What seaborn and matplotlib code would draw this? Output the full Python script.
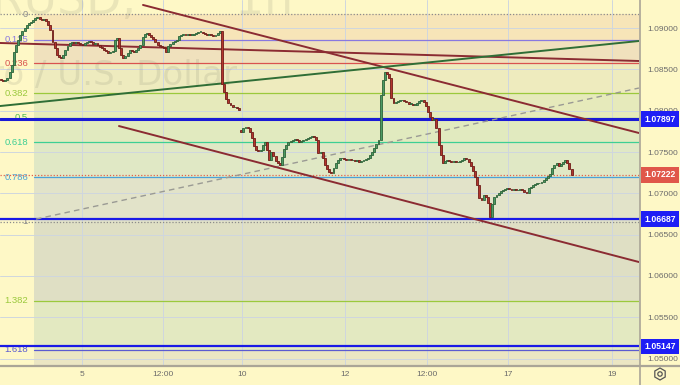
import numpy as np
import pandas as pd
import matplotlib
matplotlib.use("Agg")
import matplotlib.pyplot as plt
import matplotlib.transforms as mtransforms
from matplotlib.lines import Line2D
from matplotlib.patches import RegularPolygon, Circle
import seaborn as sns

# ---------------- data ----------------
closes = [
    1.08371, 1.08359, 1.08371, 1.08395, 1.08468, 1.08553, 1.08710, 1.08795, 1.08855, 1.08916,
    1.08964, 1.09000, 1.09037, 1.09061, 1.09073, 1.09097, 1.09121, 1.09133, 1.09109, 1.09097,
    1.09109, 1.09085, 1.09037, 1.08976, 1.08831, 1.08758, 1.08674, 1.08649, 1.08637, 1.08674,
    1.08734, 1.08782, 1.08819, 1.08831, 1.08819, 1.08831, 1.08819, 1.08807, 1.08795, 1.08819,
    1.08831, 1.08843, 1.08831, 1.08807, 1.08819, 1.08795, 1.08770, 1.08758, 1.08734, 1.08722,
    1.08698, 1.08710, 1.08722, 1.08855, 1.08879, 1.08758, 1.08674, 1.08637, 1.08661, 1.08698,
    1.08734, 1.08722, 1.08710, 1.08734, 1.08758, 1.08795, 1.08891, 1.08928, 1.08940, 1.08916,
    1.08891, 1.08867, 1.08831, 1.08795, 1.08782, 1.08770, 1.08758, 1.08710, 1.08782, 1.08807,
    1.08831, 1.08843, 1.08855, 1.08903, 1.08916, 1.08928, 1.08916, 1.08928, 1.08916, 1.08916,
    1.08928, 1.08940, 1.08952, 1.08952, 1.08940, 1.08928, 1.08916, 1.08928, 1.08916, 1.08903,
    1.08916, 1.08940, 1.08964, 1.08323, 1.08226, 1.08141, 1.08093, 1.08069, 1.08044, 1.08044,
    1.08032, 1.08008, 1.07742, 1.07790, 1.07802, 1.07790, 1.07742, 1.07669, 1.07572, 1.07524,
    1.07512, 1.07524, 1.07585, 1.07621, 1.07524, 1.07403, 1.07500, 1.07451, 1.07391, 1.07367,
    1.07343, 1.07439, 1.07536, 1.07585, 1.07621, 1.07633, 1.07645, 1.07657, 1.07645, 1.07621,
    1.07633, 1.07645, 1.07657, 1.07669, 1.07681, 1.07693, 1.07681, 1.07645, 1.07488, 1.07500,
    1.07427, 1.07343, 1.07294, 1.07258, 1.07246, 1.07306, 1.07367, 1.07403, 1.07427, 1.07427,
    1.07415, 1.07403, 1.07415, 1.07403, 1.07403, 1.07391, 1.07403, 1.07379, 1.07391, 1.07403,
    1.07415, 1.07427, 1.07464, 1.07500, 1.07548, 1.07597, 1.07645, 1.08190, 1.08371, 1.08468,
    1.08444, 1.08395, 1.08153, 1.08093, 1.08105, 1.08117, 1.08129, 1.08129, 1.08117, 1.08105,
    1.08081, 1.08081, 1.08069, 1.08069, 1.08093, 1.08117, 1.08129, 1.08105, 1.08056, 1.07984,
    1.07923, 1.07887, 1.07899, 1.07790, 1.07585, 1.07464, 1.07367, 1.07391, 1.07403, 1.07391,
    1.07379, 1.07391, 1.07379, 1.07379, 1.07391, 1.07403, 1.07427, 1.07415, 1.07379, 1.07330,
    1.07270, 1.07197, 1.07101, 1.06943, 1.06919, 1.06980, 1.06955, 1.06883, 1.06713, 1.06871,
    1.06955, 1.06980, 1.07004, 1.07028, 1.07040, 1.07052, 1.07064, 1.07052, 1.07040, 1.07052,
    1.07040, 1.07040, 1.07052, 1.07040, 1.07016, 1.07004, 1.07064, 1.07076, 1.07101, 1.07113,
    1.07125, 1.07125, 1.07137, 1.07161, 1.07185, 1.07209, 1.07234, 1.07306, 1.07343, 1.07367,
    1.07330, 1.07355, 1.07379, 1.07403, 1.07367, 1.07294, 1.07222,
]
first_open = 1.08383
gap_index = 112          # Monday open after the weekend
gap_open = 1.07766

tick_candles = [37.8, 75.5, 112.4, 160.4, 198.6, 236.4, 284.8]
tick_labels = ["5", "12:00", "10", "12", "12:00", "17", "19"]
price_ticks = [1.050, 1.055, 1.060, 1.065, 1.070, 1.075, 1.080, 1.085, 1.090]

fib_start = 15.5
fib_price_0 = 1.09169
fib_price_1 = 1.06658
fib_levels = [0, 0.125, 0.236, 0.382, 0.5, 0.618, 0.786, 1, 1.382, 1.618]
fib_labels = ["0", "0.125", "0.236", "0.382", "0.5", "0.618", "0.786", "1", "1.382", "1.618"]

marked_levels = [1.07897, 1.06687, 1.05147]
last_price = 1.07222

upper_chan_x = [66.2, 297.4]
upper_chan_p = [1.09279, 1.07730]
lower_chan_x = [55.0, 297.4]
lower_chan_p = [1.07814, 1.06169]
flat_line_x = [-0.5, 297.4]
flat_line_p = [1.08819, 1.08601]
green_line_x = [-0.5, 297.4]
green_line_p = [1.08056, 1.08843]
dash_line_x = [16.3, 297.4]
dash_line_p = [1.06688, 1.08274]

# ---------------- style ----------------
sns.set_style("white")
plt.rcParams["font.family"] = ["Liberation Sans", "DejaVu Sans"]

W, H = 680, 385
BG = "#fef8c6"
fig = plt.figure(figsize=(W / 100, H / 100), dpi=100, facecolor=BG)


def fx(px):
    return px / W


def fy(py):
    return 1 - py / H


ax = fig.add_axes([0, fy(365), fx(639), 365 / H])
ax.set_facecolor(BG)
ax.set_xlim(-0.466, 297.44)
ax.set_ylim(1.04923, 1.09339)
for s in ax.spines.values():
    s.set_visible(False)

# grid
ax.set_axisbelow(True)
ax.set_xticks(tick_candles)
ax.set_xticklabels(tick_labels)
ax.set_yticks(price_ticks)
ax.set_yticklabels([f"{p:.5f}" for p in price_ticks])
ax.yaxis.tick_right()
ax.grid(True, color="#cfd6de", lw=0.7)
ax.tick_params(axis="y", length=0, pad=6, labelsize=6, labelcolor="#6b6b6b")
ax.tick_params(axis="x", length=0, pad=4, labelsize=6, labelcolor="#6b6b6b")

# fib retracement bands
fib_prices = [fib_price_0 - l * (fib_price_0 - fib_price_1) for l in fib_levels]
band_colors = ["#f7e5b8", "#f0e1bd", "#eeebbe", "#e6eabb", "#e1eabf",
               "#e0e8c5", "#e2e3c9", "#dfdfc4", "#e3e9c1", "#ebe6c3"]
level_colors = ["#8c8c8c", "#8878e0", "#d9534f", "#9bc93c", "#4cbb50",
                "#3dcf94", "#4aa3d8", "#8c8c8c", "#9bc93c", "#5b5bd0"]
bounds = fib_prices + [1.04923]
for k in range(len(fib_prices)):
    ax.fill_between([fib_start, 300], bounds[k + 1], bounds[k],
                    color=band_colors[k], lw=0, zorder=0.2)
lab_tr = mtransforms.blended_transform_factory(ax.transAxes, ax.transData)
for lvl, p, col, lab in zip(fib_levels, fib_prices, level_colors, fib_labels):
    if lvl in (0, 1):
        ax.axhline(p, color=col, lw=0.9, ls=(0, (1, 1.5)), zorder=1.5)
    else:
        ax.plot([fib_start, 300], [p, p], color=col, lw=0.9, zorder=1.5)
    ax.text(28 / 639, p, lab, transform=lab_tr, ha="right", va="center",
            fontsize=6.8, color=col, zorder=1.6)

# watermark
ax_tr = ax.transAxes
ax.text(-70 / 639, 1 - 14 / 365, "EURUSD,", transform=ax_tr, ha="left",
        va="baseline", fontsize=33, family="DejaVu Sans", color="#7a7a6a",
        alpha=0.15, zorder=0.6)
ax.text(235 / 639, 1 - 14 / 365, "1h", transform=ax_tr, ha="left",
        va="baseline", fontsize=33, family="DejaVu Sans", color="#7a7a6a",
        alpha=0.15, zorder=0.6)
ax.text(-53 / 639, 1 - 85 / 365, "Euro / U.S. Dollar", transform=ax_tr,
        ha="left", va="baseline", fontsize=24.5, family="DejaVu Sans",
        color="#7a7a6a", alpha=0.15, zorder=0.6)

# horizontal marked levels
ax.axhline(marked_levels[0], color="#1a1ad6", lw=2.2, zorder=2.2)
ax.axhline(marked_levels[1], color="#1a1ae6", lw=1.6, zorder=2.2)
ax.axhline(marked_levels[2], color="#1a1ae6", lw=1.6, zorder=2.2)
ax.axhline(last_price, color="#e0624f", lw=0.9, ls=(0, (1, 1.5)), zorder=2.1)

# trend lines (seaborn)
maroon = "#8b2b32"
for xs, ps in [(upper_chan_x, upper_chan_p), (lower_chan_x, lower_chan_p),
               (flat_line_x, flat_line_p)]:
    sns.lineplot(x=xs, y=ps, ax=ax, color=maroon, linewidth=1.4,
                 estimator=None, sort=False, legend=False, zorder=2.5)
sns.lineplot(x=green_line_x, y=green_line_p, ax=ax, color="#2f6e36",
             linewidth=1.4, estimator=None, sort=False, legend=False, zorder=2.5)
sns.lineplot(x=dash_line_x, y=dash_line_p, ax=ax, color="#9a9a94",
             linewidth=1.0, estimator=None, sort=False, legend=False,
             zorder=2.4, dashes=False, linestyle=(0, (4, 3)))

# candles
opens = [first_open] + closes[:-1]
opens[gap_index] = gap_open
df = pd.DataFrame({"i": np.arange(len(closes)), "o": opens, "c": closes})
up = df["c"] >= df["o"]
bottom = np.minimum(df["o"], df["c"])
height = np.maximum((df["c"] - df["o"]).abs(), 0.00006)
ax.bar(df["i"], height, bottom=bottom, width=0.9,
       color=np.where(up, "#4c9a63", "#b3352d"),
       edgecolor=np.where(up, "#2c6238", "#6e1c18"),
       linewidth=0.6, zorder=4)

ax.set_xlabel("")
ax.set_ylabel("")

# right-side price boxes
def price_box(p, fc):
    ax.text(1.0 + 5 / 639, p, f"{p:.5f}", transform=lab_tr, ha="left",
            va="center", fontsize=6.2, fontweight="bold", color="white",
            bbox=dict(boxstyle="square,pad=0.38", fc=fc, ec="none"),
            clip_on=False, zorder=6)

price_box(marked_levels[0], "#1e1ef5")
price_box(last_price, "#e0574a")
price_box(marked_levels[1], "#1e1ef5")
price_box(marked_levels[2], "#1e1ef5")

# separators
fig.add_artist(Line2D([fx(639.5), fx(639.5)], [0, 1], transform=fig.transFigure,
                      color="#aaa597", lw=1.2))
fig.add_artist(Line2D([0, 1], [fy(365.5), fy(365.5)], transform=fig.transFigure,
                      color="#aaa597", lw=1.6))

# settings icon
ident = mtransforms.IdentityTransform()
fig.add_artist(RegularPolygon((660, H - 374), 6, radius=6, fill=False,
                              ec="#555555", lw=0.9, transform=ident))
fig.add_artist(Circle((660, H - 374), 2.2, fill=False, ec="#555555", lw=0.9,
                      transform=ident))

fig.savefig("out.png", dpi=100, facecolor=BG)
